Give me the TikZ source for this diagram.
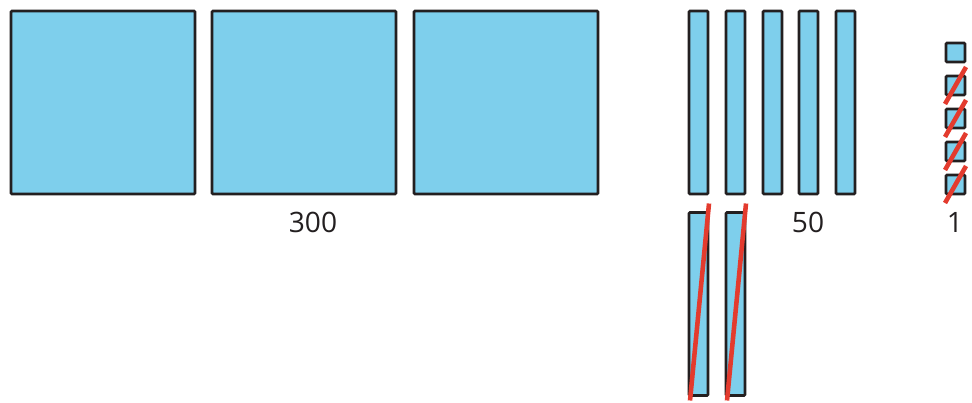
\documentclass[tikz,border=0pt]{standalone}
\usepackage{fontspec}
\setmainfont{Open Sans}
\usetikzlibrary{positioning}
\definecolor{blockblue}{HTML}{7ECFEC}
\definecolor{blockline}{HTML}{231F20}
\definecolor{strikered}{HTML}{E33B2E}
\begin{document}
\begin{tikzpicture}[
    x=0.02cm,y=-0.02cm,
    block/.style={draw=blockline, fill=blockblue, line width=1.5pt,
      rounded corners=0.6pt, inner sep=0pt, outer sep=0pt},
    hundred/.style={block, minimum width=3.68cm, minimum height=3.66cm},
    ten/.style={block, minimum width=0.38cm, minimum height=3.66cm},
    unit/.style={block, minimum width=0.38cm, minimum height=0.38cm},
    strike/.style={draw=strikered, line width=2.6pt},
    count/.style={font=\fontsize{16}{18}\selectfont, text=blockline, inner sep=0pt}
  ]
    \useasboundingbox (0,0) rectangle (972,402);

    \node[hundred] (h1) at (103,102.5) {};
    \node[hundred] (h2) at (304,102.5) {};
    \node[hundred] (h3) at (506,102.5) {};

    \node[ten] (t1) at (698.5,102.5) {};
    \node[ten] (t2) at (735.5,102.5) {};
    \node[ten] (t3) at (772.5,102.5) {};
    \node[ten] (t4) at (808.5,102.5) {};
    \node[ten] (t5) at (845.5,102.5) {};
    \node[ten] (t6) at (698.5,304) {};
    \node[ten] (t7) at (735.5,304) {};

    \node[unit] (u1) at (955.5,52.5) {};
    \node[unit] (u2) at (955.5,85.5) {};
    \node[unit] (u3) at (955.5,118.5) {};
    \node[unit] (u4) at (955.5,151.5) {};
    \node[unit] (u5) at (955.5,184.5) {};

    \node[count] (n300) at (313,222) {300};
    \node[count] (n50) at (808,222) {50};
    \node[count] (n1) at (955,222) {1};

    % crossed out blocks
    \draw[strike] ([shift={(1,5)}]t6.south west) -- ([shift={(1,-9)}]t6.north east);
    \draw[strike] ([shift={(1,5)}]t7.south west) -- ([shift={(1,-9)}]t7.north east);
    \draw[strike] ([shift={(-1,9)}]u2.south west) -- ([shift={(1,-9)}]u2.north east);
    \draw[strike] ([shift={(-1,9)}]u3.south west) -- ([shift={(1,-9)}]u3.north east);
    \draw[strike] ([shift={(-1,9)}]u4.south west) -- ([shift={(1,-9)}]u4.north east);
    \draw[strike] ([shift={(-1,9)}]u5.south west) -- ([shift={(1,-9)}]u5.north east);
  \end{tikzpicture}
\end{document}
